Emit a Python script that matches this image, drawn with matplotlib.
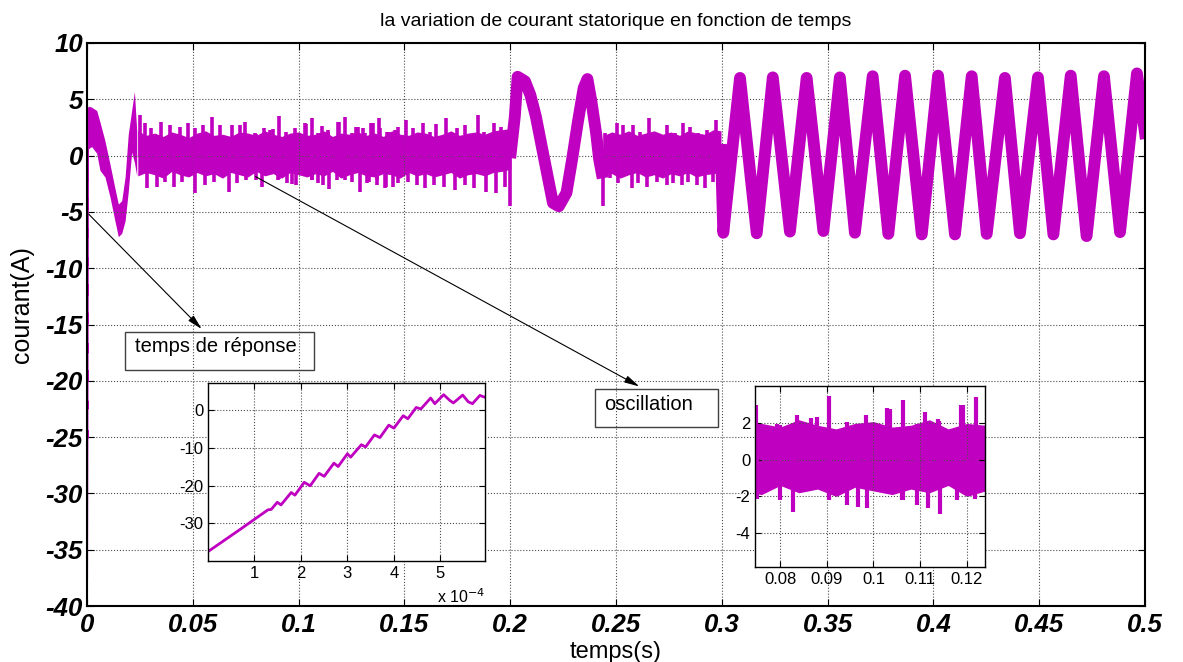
import numpy as np
import matplotlib
matplotlib.use('Agg')
import matplotlib.pyplot as plt
from matplotlib.patches import Rectangle

plt.rcParams['axes.unicode_minus'] = False
plt.rcParams['font.family'] = ['Liberation Sans', 'DejaVu Sans']

MAG = '#c000c0'

# demarrage : courant pendant les 6e-4 premieres secondes (temps en 1e-4 s)
resp_t = [0.0, 0.68, 1.29, 1.36, 1.49, 1.57, 1.79, 1.87, 2.07, 2.20, 2.39, 2.50,
          2.71, 2.80, 3.00, 3.07, 3.30, 3.39, 3.58, 3.70, 3.89, 4.00, 4.20, 4.30,
          4.48, 4.58, 4.79, 4.88, 5.07, 5.20, 5.28, 5.48, 5.60, 5.69, 5.85, 5.96]
resp_i = [-37.5, -31.7, -26.4, -26.3, -24.4, -25.1, -21.8, -22.5, -19.1, -20.0, -16.7, -17.5,
          -14.0, -14.9, -11.5, -12.4, -9.1, -9.7, -6.5, -7.2, -3.9, -4.7, -1.4, -2.2,
          0.8, 0.4, 3.3, 1.8, 4.2, 2.7, 2.0, 4.1, 2.3, 1.8, 4.0, 3.5]

# enveloppe du regime transitoire (0 - 0.024 s)
trans_t = [0.0006, 0.0022, 0.0046, 0.0061, 0.0085, 0.0109, 0.0132, 0.0148, 0.0164,
           0.0180, 0.0195, 0.0211, 0.0224, 0.0235]
trans_hi = [4.4, 4.3, 4.0, 3.0, 1.3, -0.8, -2.9, -4.3, -4.0,
            -1.9, 1.9, 4.0, 5.7, 2.2]
trans_lo = [0.6, 0.8, 0.2, -1.3, -1.9, -3.7, -5.8, -7.2, -6.9,
            -5.8, -3.2, 0.3, -0.6, -1.8]

# bande de bruit autour de 0 (0.024 - 0.2 s)
band1_t = [0.024, 0.028, 0.032, 0.036, 0.040, 0.044, 0.048, 0.052, 0.056, 0.060,
           0.064, 0.068, 0.072, 0.076, 0.080, 0.084, 0.088, 0.092, 0.096, 0.100,
           0.104, 0.108, 0.112, 0.116, 0.120, 0.124, 0.128, 0.132, 0.136, 0.140,
           0.144, 0.148, 0.152, 0.156, 0.160, 0.164, 0.168, 0.172, 0.176, 0.180,
           0.184, 0.188, 0.192, 0.196, 0.2003]
band1_hi = [2.2, 1.8, 2.0, 1.7, 2.1, 1.9, 1.6, 2.0, 2.2, 1.8,
            1.9, 1.7, 2.1, 2.0, 1.8, 2.2, 1.9, 1.7, 2.0, 2.1,
            1.8, 1.9, 2.2, 1.7, 2.0, 1.9, 2.1, 1.8, 2.0, 1.7,
            2.2, 1.9, 1.8, 2.1, 2.0, 1.7, 1.9, 2.2, 1.8, 2.0,
            2.1, 1.9, 2.2, 2.3, 2.4]
band1_lo = [-1.8, -1.5, -1.7, -2.0, -1.4, -1.7, -1.9, -1.5, -1.8, -1.6,
            -2.0, -1.5, -1.7, -1.9, -1.4, -1.8, -1.6, -2.0, -1.5, -1.7,
            -1.9, -1.6, -1.8, -1.4, -2.0, -1.7, -1.5, -1.8, -1.9, -1.6,
            -1.7, -2.0, -1.5, -1.8, -1.6, -1.9, -1.7, -1.5, -2.0, -1.7,
            -1.6, -1.8, -1.5, -1.4, -1.2]

# bande de bruit entre la perturbation et 0.3 s
band2_t = [0.2442, 0.248, 0.252, 0.256, 0.260, 0.264, 0.268, 0.272, 0.276, 0.280,
           0.284, 0.288, 0.292, 0.296, 0.2996]
band2_hi = [1.8, 2.1, 1.9, 2.2, 1.8, 2.0, 2.2, 1.9, 2.1, 1.8, 2.2, 2.0, 1.9, 2.3, 2.2]
band2_lo = [-1.9, -1.6, -2.0, -1.7, -1.5, -1.9, -1.7, -2.0, -1.6, -1.8, -1.5, -1.9, -1.7, -1.6, -1.5]

# pics du bruit
up_t = [0.0249, 0.0276, 0.0303, 0.0348, 0.0394, 0.0439, 0.0475, 0.0511, 0.0547, 0.0589,
        0.0629, 0.0683, 0.0723, 0.07486, 0.0794, 0.0800, 0.08357, 0.0865, 0.08799, 0.09056,
        0.09428, 0.09842, 0.1030, 0.10356, 0.10627, 0.1093, 0.11105, 0.1140, 0.1139,
        0.1188, 0.11925, 0.12197, 0.1251, 0.1271, 0.1282, 0.1303, 0.1314, 0.1343, 0.1353,
        0.1380, 0.1385, 0.1416, 0.1425, 0.1456, 0.1470, 0.1506, 0.1542, 0.1587, 0.1623,
        0.1651, 0.1696, 0.1750, 0.1786, 0.1846, 0.1877, 0.1922, 0.1958,
        0.2448, 0.2487, 0.2503, 0.2535, 0.2582, 0.2613, 0.2657, 0.2692, 0.2740, 0.2779,
        0.2815, 0.2850, 0.2889, 0.2929, 0.2973]
up_i = [3.6, 2.87, 2.42, 3.01, 2.72, 2.57, 2.87, 2.42, 2.72, 3.45,
        2.72, 2.72, 2.72, 3.0, 1.98, 1.92, 2.47, 2.27, 2.37, 3.5,
        2.1, 2.47, 2.87, 2.78, 3.3, 1.98, 2.65, 2.12, 2.23,
        3.0, 3.0, 3.47, 1.98, 2.57, 2.57, 2.42, 1.98, 2.87, 2.87,
        3.3, 2.42, 2.12, 2.12, 2.27, 2.57, 3.16, 2.42, 2.92, 2.12,
        2.8, 3.3, 2.42, 2.72, 3.6, 2.12, 2.87, 2.57,
        1.98, 1.83, 2.87, 2.72, 2.72, 2.12, 3.31, 1.98, 2.72, 1.98,
        2.92, 2.57, 1.98, 2.27, 3.16]
dn_t = [0.0285, 0.0330, 0.0367, 0.0412, 0.0448, 0.0511, 0.0556, 0.0602, 0.0671, 0.0710,
        0.0750, 0.0800, 0.08285, 0.0904, 0.09056, 0.0944, 0.09677, 0.09856, 0.1062,
        0.10627, 0.1093, 0.11176, 0.11426, 0.1180, 0.1204, 0.12176, 0.1251, 0.1289,
        0.1322, 0.1334, 0.1369, 0.1371, 0.1408, 0.1415, 0.1448, 0.1470, 0.1515, 0.1560,
        0.1596, 0.1642, 0.1687, 0.1741, 0.1786, 0.1831, 0.1886, 0.1931, 0.1976, 0.1998,
        0.2440, 0.2472, 0.2511, 0.2574, 0.2605, 0.2645, 0.2692, 0.2740, 0.2771, 0.2810,
        0.2842, 0.2881, 0.2921, 0.2960]
dn_i = [-2.9, -2.76, -2.32, -2.76, -2.32, -3.35, -2.61, -2.32, -3.2, -2.46,
        -2.15, -2.2, -2.83, -2.17, -2.1, -2.46, -2.56, -2.65, -2.17,
        -2.2, -2.46, -2.65, -2.96, -2.17, -2.0, -2.15, -2.32, -3.2,
        -2.46, -2.32, -2.17, -2.61, -2.9, -2.76, -2.76, -2.46, -2.32, -2.61,
        -2.9, -2.61, -2.76, -3.05, -2.61, -2.9, -3.2, -3.35, -2.76, -4.5,
        -4.5, -2.0, -2.46, -2.9, -2.46, -2.76, -2.32, -2.61, -2.46, -2.61,
        -2.32, -2.61, -2.9, -2.32]

# perturbation entre 0.2 et 0.245 s
bump_t = [0.2003, 0.2022, 0.2035, 0.2070, 0.2095, 0.2121, 0.2166, 0.2202, 0.2230,
          0.2266, 0.2292, 0.2320, 0.2347, 0.2365, 0.2384, 0.2406, 0.2420, 0.2432]
bump_i = [0.3, 3.5, 7.0, 6.6, 5.4, 3.5, -0.8, -4.2, -4.5,
          -3.3, -0.4, 3.0, 6.0, 6.8, 4.8, 2.0, -0.3, -1.5]

# oscillations a partir de 0.3 s
osc_t = [0.2996, 0.3007, 0.3086, 0.3165, 0.3241, 0.3322, 0.3401, 0.3480, 0.3558,
         0.3629, 0.3713, 0.3787, 0.3866, 0.3945, 0.4022, 0.4102, 0.4181, 0.4252,
         0.4338, 0.4409, 0.4494, 0.4567, 0.4649, 0.4724, 0.4806, 0.4882, 0.4962, 0.5]
osc_i = [0.5, -6.85, 6.9, -6.9, 6.95, -6.75, 6.9, -6.7, 6.95,
         -6.85, 7.05, -6.95, 7.1, -7.0, 7.1, -7.0, 7.05, -6.95,
         6.9, -6.9, 6.95, -7.0, 7.1, -7.15, 7.05, -6.8, 7.3, 2.0]

xticks = [0, 0.05, 0.1, 0.15, 0.2, 0.25, 0.3, 0.35, 0.4, 0.45, 0.5]
xtick_labels = ['0', '0.05', '0.1', '0.15', '0.2', '0.25', '0.3', '0.35', '0.4', '0.45', '0.5']
yticks = [10, 5, 0, -5, -10, -15, -20, -25, -30, -35, -40]


def draw_current(a, lw_thick, lw_spike):
    a.plot(np.array(resp_t) * 1e-4, resp_i, color=MAG, lw=1.5)
    a.fill_between(trans_t, trans_lo, trans_hi, color=MAG, lw=0)
    a.fill_between(band1_t, band1_lo, band1_hi, color=MAG, lw=0)
    a.fill_between(band2_t, band2_lo, band2_hi, color=MAG, lw=0)
    a.vlines(up_t, 0, up_i, color=MAG, lw=lw_spike)
    a.vlines(dn_t, dn_i, 0, color=MAG, lw=lw_spike)
    a.plot(bump_t, bump_i, color=MAG, lw=lw_thick, solid_joinstyle='round')
    a.plot(osc_t, osc_i, color=MAG, lw=lw_thick, solid_joinstyle='round')


def matlab_axes(a, lw):
    a.grid(True, ls=':', color='0.3', lw=0.8)
    a.tick_params(direction='in', top=True, right=True, length=5, width=0.8)
    for s in a.spines.values():
        s.set_linewidth(lw)


fig = plt.figure(figsize=(11.83, 6.62), dpi=100)
W, H = 1183, 662
ax = fig.add_axes([87 / W, 1 - 606 / H, 1058 / W, 563 / H])
draw_current(ax, 8.5, 2.6)
ax.set_xlim(0, 0.5)
ax.set_ylim(-40, 10)
ax.set_xticks(xticks)
ax.set_xticklabels(xtick_labels)
ax.set_yticks(yticks)
ax.set_yticklabels([str(v) for v in yticks])
matlab_axes(ax, 1.5)
ax.tick_params(axis='x', pad=5)
ax.tick_params(axis='y', pad=3)
for lab in ax.get_xticklabels() + ax.get_yticklabels():
    lab.set_fontsize(18.5)
    lab.set_fontweight('bold')
    lab.set_fontstyle('italic')
ax.set_title('la variation de courant statorique en fonction de temps', fontsize=14, pad=12)
ax.set_xlabel('temps(s)', fontsize=17, labelpad=3)
ax.set_ylabel('courant(A)', fontsize=18)
ax.yaxis.set_label_coords(-0.05, 0.535)

# annotations
ax.annotate('', xy=(0.0542, -15.4), xytext=(0.0008, -5.2),
            arrowprops=dict(arrowstyle='-|>,head_length=0.9,head_width=0.22',
                            color='k', lw=0.8, shrinkA=0, shrinkB=0))
ax.annotate('', xy=(0.261, -20.5), xytext=(0.0797, -1.87),
            arrowprops=dict(arrowstyle='-|>,head_length=0.9,head_width=0.22',
                            color='k', lw=0.8, shrinkA=0, shrinkB=0))
ax.add_patch(Rectangle((0.018, -19.04), 0.0893, 3.34, fill=False, ec='0.25', lw=1, zorder=5))
ax.text(0.0227, -17.42, 'temps de réponse', fontsize=14.5, va='baseline', zorder=5)
ax.add_patch(Rectangle((0.2401, -24.13), 0.0582, 3.38, fill=False, ec='0.25', lw=1, zorder=5))
ax.text(0.2443, -22.6, 'oscillation', fontsize=14.5, va='baseline', zorder=5)

# zoom sur le demarrage
ax1 = fig.add_axes([208 / W, 1 - 561 / H, 277 / W, 178 / H])
ax1.plot(resp_t, resp_i, color=MAG, lw=2)
ax1.set_xlim(0, 5.96)
ax1.set_ylim(-40, 7.3)
ax1.set_xticks([1, 2, 3, 4, 5])
ax1.set_yticks([0, -10, -20, -30])
matlab_axes(ax1, 1.0)
ax1.tick_params(labelsize=12, length=4)
ax1.text(1.0, -0.2, 'x 10$^{-4}$', transform=ax1.transAxes, ha='right', va='center', fontsize=11.5)

# zoom sur les oscillations
ax2 = fig.add_axes([755 / W, 1 - 566.7 / H, 230 / W, 180.7 / H])
draw_current(ax2, 8, 3.0)
ax2.set_xlim(0.0746, 0.1239)
ax2.set_ylim(-5.85, 4.05)
ax2.set_xticks([0.08, 0.09, 0.1, 0.11, 0.12])
ax2.set_xticklabels(['0.08', '0.09', '0.1', '0.11', '0.12'])
ax2.set_yticks([2, 0, -2, -4])
matlab_axes(ax2, 1.0)
ax2.tick_params(labelsize=12, length=4)

fig.savefig('out.png', dpi=100)
